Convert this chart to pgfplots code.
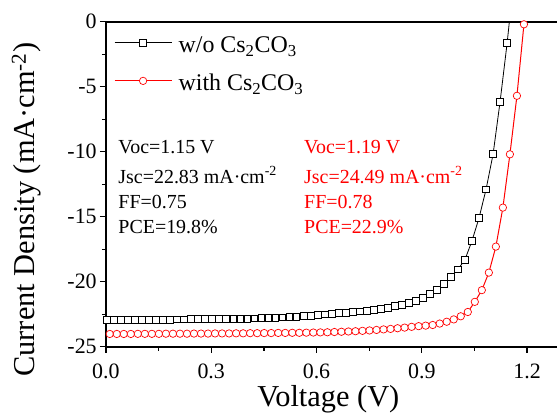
\documentclass[border=0pt]{standalone}
\usepackage{fontspec}
\setmainfont{Liberation Serif}
\usepackage{pgfplots}
\usepackage{pgfplotstable}
\pgfplotsset{compat=1.18}

\pgfplotstableread{
V J
0.003 -22.95
0.023 -22.95
0.043 -22.94
0.063 -22.94
0.083 -22.93
0.103 -22.93
0.123 -22.92
0.143 -22.92
0.163 -22.91
0.183 -22.91
0.203 -22.90
0.223 -22.90
0.243 -22.89
0.263 -22.89
0.283 -22.88
0.303 -22.88
0.323 -22.87
0.343 -22.87
0.363 -22.86
0.383 -22.85
0.403 -22.84
0.423 -22.83
0.443 -22.81
0.463 -22.79
0.483 -22.77
0.503 -22.75
0.523 -22.72
0.543 -22.68
0.563 -22.64
0.583 -22.60
0.603 -22.56
0.623 -22.52
0.643 -22.48
0.663 -22.43
0.683 -22.38
0.703 -22.34
0.723 -22.28
0.743 -22.22
0.763 -22.15
0.783 -22.07
0.803 -21.99
0.823 -21.89
0.843 -21.77
0.863 -21.63
0.883 -21.46
0.903 -21.24
0.923 -20.95
0.943 -20.60
0.963 -20.15
0.983 -19.65
1.003 -19.05
1.023 -18.30
1.043 -16.85
1.063 -15.10
1.083 -12.90
1.103 -10.20
1.123 -6.15
1.143 -1.66
1.163 3.50
}\wo

\pgfplotstableread{
V J
0.011 -24.02
0.031 -24.02
0.051 -24.02
0.071 -24.02
0.091 -24.01
0.111 -24.01
0.131 -24.01
0.151 -24.01
0.171 -24.00
0.191 -24.00
0.211 -24.00
0.231 -24.00
0.251 -23.99
0.271 -23.99
0.291 -23.99
0.311 -23.98
0.331 -23.98
0.351 -23.98
0.371 -23.97
0.391 -23.97
0.411 -23.96
0.431 -23.96
0.451 -23.95
0.471 -23.95
0.491 -23.94
0.511 -23.94
0.531 -23.93
0.551 -23.93
0.571 -23.92
0.591 -23.91
0.611 -23.90
0.631 -23.89
0.651 -23.87
0.671 -23.85
0.691 -23.83
0.711 -23.81
0.731 -23.78
0.751 -23.75
0.771 -23.71
0.791 -23.67
0.811 -23.63
0.831 -23.58
0.851 -23.53
0.871 -23.47
0.891 -23.42
0.911 -23.38
0.931 -23.33
0.951 -23.22
0.971 -23.08
0.991 -22.90
1.011 -22.66
1.031 -22.33
1.051 -21.55
1.071 -20.65
1.091 -19.30
1.111 -17.30
1.131 -14.30
1.151 -10.20
1.171 -5.70
1.191 -0.20
}\with

\begin{document}
\begin{tikzpicture}
\begin{axis}[
  scale only axis,
  width=452.8bp, height=325bp,
  xmin=0, xmax=1.29, ymin=-25, ymax=0,
  clip mode=individual,
  xtick={0,0.3,0.6,0.9,1.2},
  xticklabels={0.0,0.3,0.6,0.9,1.2},
  minor xtick={0.15,0.45,0.75,1.05},
  ytick={-25,-20,-15,-10,-5,0},
  yticklabels={-25,-20,-15,-10,-5,0},
  minor ytick={-22.5,-17.5,-12.5,-7.5,-2.5},
  tick align=outside,
  xtick pos=bottom, ytick pos=left,
  major tick length=6bp, minor tick length=4bp,
  every tick/.style={line width=1.3bp, black},
  axis line style={line width=1.8bp},
  xticklabel style={font=\fontsize{22}{22}\selectfont, anchor=base, inner sep=0pt},
  every x tick label/.append style={yshift=-26bp},
  yticklabel style={font=\fontsize{22}{22}\selectfont, anchor=east, inner sep=0pt, xshift=-3bp},
  xlabel={Voltage (V)},
  ylabel={Current Density (mA·cm\textsuperscript{-2})},
  every axis x label/.style={at={(rel axis cs:0.5,0)}, xshift=-4bp, anchor=base, yshift=-60bp, font=\fontsize{30.5}{30.5}\selectfont},
  every axis y label/.style={at={(rel axis cs:0,0.4215)}, xshift=-71bp, rotate=90, anchor=base, font=\fontsize{30.5}{30.5}\selectfont},
  legend style={at={(rel axis cs:0,1)}, anchor=north west, xshift=8bp, yshift=-5bp,
    draw=none, fill=none, inner sep=0pt, row sep=6bp, column sep=6.5bp,
    font=\fontsize{24}{24}\selectfont,
    nodes={inner sep=0pt, text height=26bp, text depth=6bp}},
  legend cell align=left,
  legend image code/.code={\draw[mark repeat=2,mark phase=2] plot coordinates {(0bp,0bp) (28.5bp,0bp) (57bp,0bp)};},
]
\addplot[black, line width=0.8bp, mark=square*, mark size=3.4bp, mark options={fill=white, line width=0.8bp}] table[x=V,y=J] {\wo};
\addlegendentry{w/o Cs\textsubscript{2}CO\textsubscript{3}}
\addplot[red, line width=1bp, mark=*, mark size=3.7bp, mark options={fill=white, line width=0.7bp}] table[x=V,y=J] {\with};
\addlegendentry{with Cs\textsubscript{2}CO\textsubscript{3}}

\begin{scope}[every node/.style={anchor=base west, inner sep=0pt, font=\fontsize{20}{20}\selectfont}]
\node[text=black] at (axis cs:0.0353,-10.12) {Voc=1.15 V};
\node[text=black] at (axis cs:0.0353,-12.43) {Jsc=22.83 mA·cm\textsuperscript{-2}};
\node[text=black] at (axis cs:0.0353,-14.35) {FF=0.75};
\node[text=black] at (axis cs:0.0353,-16.28) {PCE=19.8\%};
\node[text=red] at (axis cs:0.5644,-10.12) {Voc=1.19 V};
\node[text=red] at (axis cs:0.5644,-12.43) {Jsc=24.49 mA·cm\textsuperscript{-2}};
\node[text=red] at (axis cs:0.5644,-14.35) {FF=0.78};
\node[text=red] at (axis cs:0.5644,-16.28) {PCE=22.9\%};
\end{scope}
\end{axis}
\pgfresetboundingbox
\path (current axis.south west) ++(-105.9bp,-67.3bp) rectangle ++(557bp,414bp);
\end{tikzpicture}
\end{document}
